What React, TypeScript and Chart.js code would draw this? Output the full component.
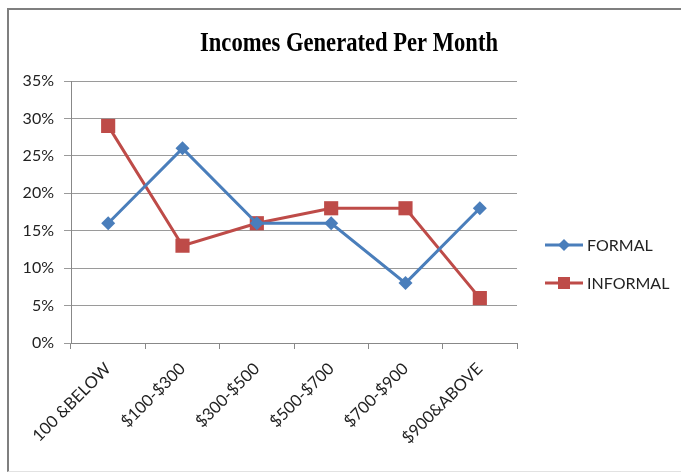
import React, { useEffect, useRef } from 'react';
import { Chart, registerables } from 'chart.js';

Chart.register(...registerables);

const TITLE = 'Incomes Generated Per Month';
const categories = ['100 &BELOW', '$100-$300', '$300-$500', '$500-$700', '$700-$900', '$900&ABOVE'];
const formalValues = [16, 26, 16, 16, 8, 18];
const informalValues = [29, 13, 16, 18, 18, 6];
const seriesNames = ['FORMAL', 'INFORMAL'];
const yTicks = { min: 0, max: 35, step: 5 };

const BLUE = '#4A7EBB';
const RED = '#BE4B48';
const FONT = 'Lato';

const titlePlugin = {
  id: 'customTitle',
  afterDraw(chart: any) {
    const ctx = chart.ctx;
    ctx.save();
    ctx.font = 'bold 28px "Liberation Serif"';
    const w = ctx.measureText(TITLE).width;
    const sx = 298 / w;
    ctx.translate(349, 51);
    ctx.scale(sx, 1);
    ctx.textAlign = 'center';
    ctx.textBaseline = 'alphabetic';
    ctx.fillStyle = '#000';
    ctx.fillText(TITLE, 0, 0);
    ctx.restore();
  },
};

const legendPlugin = {
  id: 'customLegend',
  afterDraw(chart: any) {
    const ctx = chart.ctx;
    const rows = [245, 283];
    chart.data.datasets.forEach((ds: any, i: number) => {
      const y = rows[i];
      ctx.save();
      ctx.strokeStyle = ds.borderColor;
      ctx.lineWidth = 3;
      ctx.beginPath();
      ctx.moveTo(545, y);
      ctx.lineTo(583, y);
      ctx.stroke();
      ctx.fillStyle = ds.pointBackgroundColor;
      const cx = 564;
      if (ds.pointStyle === 'rectRot') {
        const r = 6;
        ctx.beginPath();
        ctx.moveTo(cx, y - r);
        ctx.lineTo(cx + r, y);
        ctx.lineTo(cx, y + r);
        ctx.lineTo(cx - r, y);
        ctx.closePath();
        ctx.fill();
      } else {
        const h = 6;
        ctx.fillRect(cx - h, y - h, 2 * h, 2 * h);
      }
      ctx.font = `16px ${FONT}`;
      ctx.fillStyle = '#222';
      ctx.textAlign = 'left';
      ctx.textBaseline = 'middle';
      ctx.fillText(ds.label, 587, y + 1);
      ctx.restore();
    });
  },
};

export default function App() {
  const canvasRef = useRef<HTMLCanvasElement | null>(null);

  useEffect(() => {
    let chart: Chart | null = null;
    let cancelled = false;
    const make = () => {
      if (cancelled || !canvasRef.current) return;
      chart = new Chart(canvasRef.current, {
        type: 'line',
        data: {
          labels: categories,
          datasets: [
            {
              label: seriesNames[0],
              data: formalValues,
              borderColor: BLUE,
              backgroundColor: BLUE,
              pointBackgroundColor: BLUE,
              pointBorderColor: BLUE,
              pointStyle: 'rectRot',
              pointRadius: 7,
              pointBorderWidth: 0,
              borderWidth: 3,
              tension: 0,
            },
            {
              label: seriesNames[1],
              data: informalValues,
              borderColor: RED,
              backgroundColor: RED,
              pointBackgroundColor: RED,
              pointBorderColor: RED,
              pointStyle: 'rect',
              pointRadius: 10,
              pointBorderWidth: 0,
              borderWidth: 3,
              tension: 0,
            },
          ],
        },
        options: {
          responsive: false,
          animation: false,
          devicePixelRatio: 1,
          layout: { padding: { top: 81, right: 164, bottom: 0, left: 0 } },
          plugins: {
            legend: { display: false },
            title: { display: false },
            tooltip: { enabled: false },
          },
          scales: {
            x: {
              type: 'category',
              offset: true,
              grid: {
                offset: true,
                drawOnChartArea: false,
                drawTicks: true,
                tickLength: 6,
                color: '#888',
              },
              border: { color: '#888', width: 1 },
              ticks: {
                autoSkip: false,
                minRotation: 45,
                maxRotation: 45,
                font: { family: FONT, size: 16.5 },
                color: '#222',
                padding: 10,
              },
              afterFit(s: any) {
                s.height = 129;
              },
            },
            y: {
              min: yTicks.min,
              max: yTicks.max,
              ticks: {
                stepSize: yTicks.step,
                callback: (v: any) => `${v}%`,
                font: { family: FONT, size: 16 },
                color: '#222',
                padding: 10,
              },
              grid: { color: '#9a9a9a', tickLength: 7 },
              border: { color: '#888', width: 1 },
              afterFit(s: any) {
                s.width = 71;
              },
            },
          },
        },
        plugins: [titlePlugin, legendPlugin],
      } as any);
    };
    const fonts: any = (document as any).fonts;
    if (fonts && fonts.load) {
      Promise.all([
        fonts.load(`16px ${FONT}`),
        fonts.load('bold 28px "Liberation Serif"'),
      ]).then(make, make);
    } else {
      make();
    }
    return () => {
      cancelled = true;
      if (chart) chart.destroy();
    };
  }, []);

  return (
    <div style={{ position: 'fixed', left: 0, top: 0, width: 681, height: 472, background: '#fff' }}>
      <div
        style={{
          position: 'absolute',
          left: 7,
          top: 8,
          width: 674,
          height: 464,
          boxSizing: 'border-box',
          borderTop: '2px solid #7f7f7f',
          borderLeft: '2px solid #7f7f7f',
          borderBottom: '1px solid #e2e2e2',
        }}
      />
      <canvas
        ref={canvasRef}
        width={681}
        height={472}
        style={{ position: 'absolute', left: 0, top: 0, width: 681, height: 472 }}
      />
    </div>
  );
}
